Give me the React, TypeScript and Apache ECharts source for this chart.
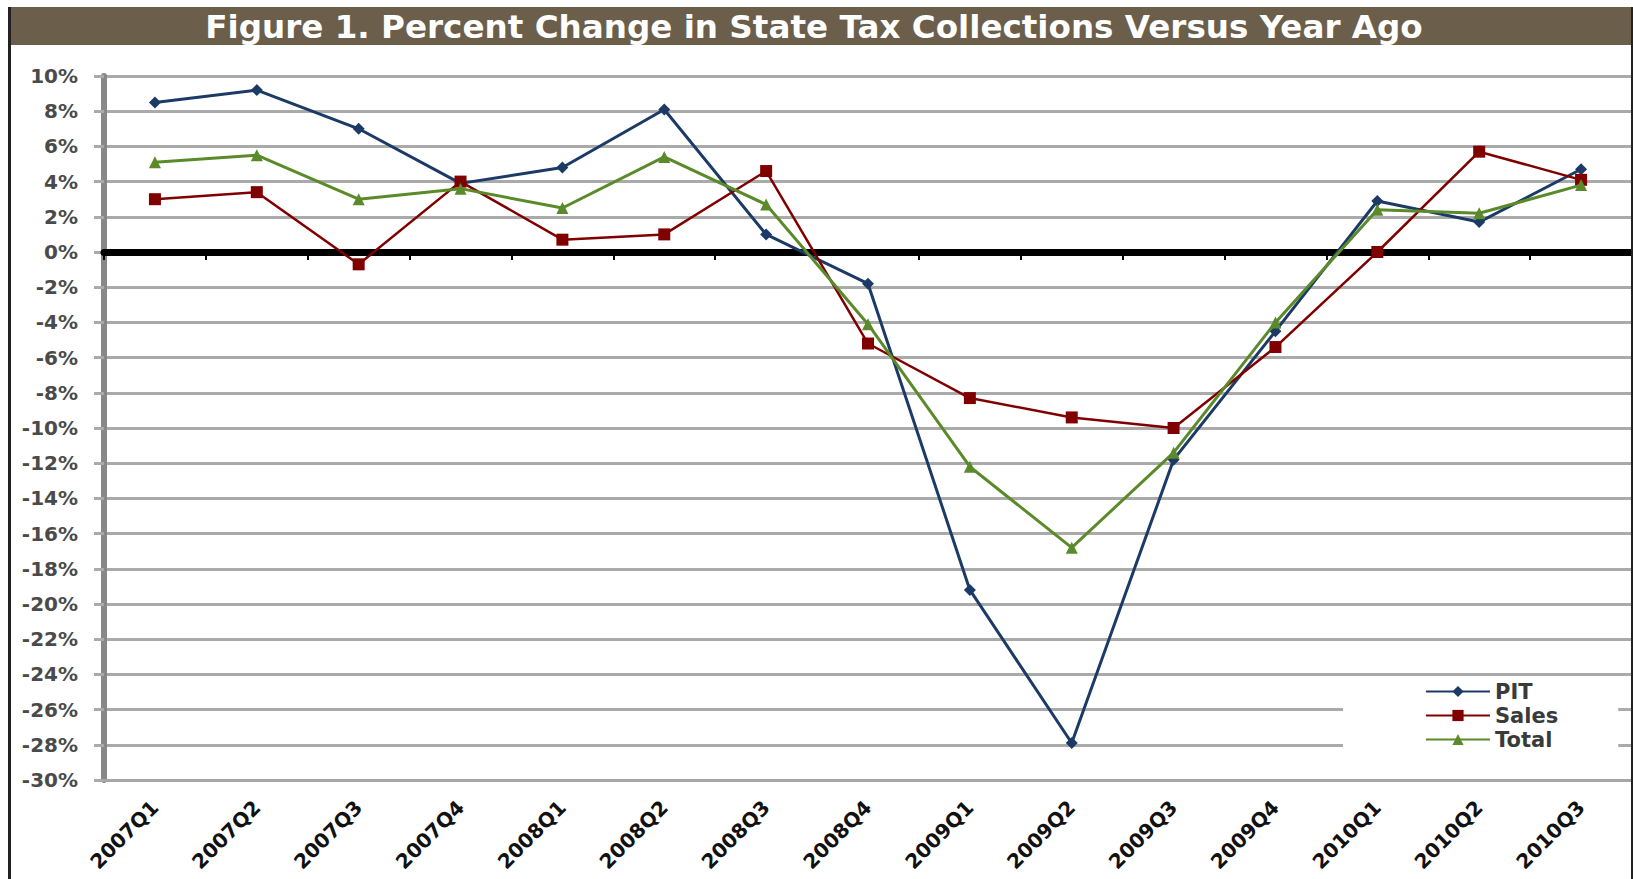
import React, { useEffect, useRef } from "react";
import * as echarts from "echarts";

const categories = [
  "2007Q1", "2007Q2", "2007Q3", "2007Q4",
  "2008Q1", "2008Q2", "2008Q3", "2008Q4",
  "2009Q1", "2009Q2", "2009Q3", "2009Q4",
  "2010Q1", "2010Q2", "2010Q3",
];
const pitValues = [8.5, 9.2, 7.0, 3.9, 4.8, 8.1, 1.0, -1.8, -19.2, -27.9, -11.8, -4.5, 2.9, 1.7, 4.7];
const salesValues = [3.0, 3.4, -0.7, 4.0, 0.7, 1.0, 4.6, -5.2, -8.3, -9.4, -10.0, -5.4, 0.0, 5.7, 4.1];
const totalValues = [5.1, 5.5, 3.0, 3.6, 2.5, 5.4, 2.7, -4.1, -12.2, -16.8, -11.4, -4.0, 2.4, 2.2, 3.8];
const seriesNames = ["PIT", "Sales", "Total"];
const titleText = "Figure 1. Percent Change in State Tax Collections Versus Year Ago";
const yMin = -30;
const yMax = 10;
const yStep = 2;

const FONT = "DejaVu Sans";

export default function App() {
  const ref = useRef<HTMLDivElement>(null);

  useEffect(() => {
    if (!ref.current) return;
    const chart = echarts.init(ref.current, undefined, { renderer: "svg" });
    const option = {
      animation: false,
      backgroundColor: "#ffffff",
      graphic: [
        {
          type: "rect",
          shape: { x: 10, y: 7, width: 1622, height: 38 },
          style: { fill: "#6b5e4a" },
          z: 10,
        },
        {
          type: "text",
          x: 814,
          y: 27,
          style: {
            text: titleText,
            fill: "#ffffff",
            font: `bold 32.6px "${FONT}"`,
            textAlign: "center",
            textVerticalAlign: "middle",
          },
          z: 11,
        },
        {
          type: "rect",
          shape: { x: 8, y: 7, width: 3, height: 872 },
          style: { fill: "#222222" },
          z: 12,
        },
        {
          type: "rect",
          shape: { x: 1631, y: 7, width: 2, height: 872 },
          style: { fill: "#222222" },
          z: 12,
        },
      ],
      legend: {
        orient: "vertical",
        left: 1343,
        top: 677,
        backgroundColor: "#ffffff",
        padding: [4, 60, 24, 82],
        itemWidth: 64,
        itemHeight: 14,
        itemGap: 3,
        data: seriesNames,
        textStyle: {
          fontFamily: FONT,
          fontWeight: "bold",
          fontSize: 21,
          lineHeight: 20,
          color: "#3a3a3a",
        },
      },
      grid: { left: 104, right: 1, top: 76, bottom: 99, containLabel: false },
      xAxis: [
        {
          type: "category",
          data: categories,
          position: "bottom",
          boundaryGap: true,
          axisLine: { onZero: false, show: true, lineStyle: { color: "#a6a6a6", width: 3 } },
          axisTick: { show: false },
          axisLabel: {
            rotate: 45,
            margin: 24,
            interval: 0,
            fontFamily: FONT,
            fontWeight: "bold",
            fontSize: 20,
            color: "#111111",
          },
          splitLine: { show: false },
        },
        {
          type: "category",
          data: categories,
          position: "bottom",
          boundaryGap: true,
          axisLine: { onZero: true, show: true, lineStyle: { color: "#000000", width: 7 } },
          axisTick: { show: true, length: 8, lineStyle: { color: "#000000", width: 2 } },
          axisLabel: { show: false },
          splitLine: { show: false },
          z: 3,
        },
      ],
      yAxis: {
        type: "value",
        min: yMin,
        max: yMax,
        interval: yStep,
        axisLine: { show: true, lineStyle: { color: "#888888", width: 6 } },
        axisTick: { show: true, length: 10, lineStyle: { color: "#aaaaaa", width: 3 } },
        axisLabel: {
          formatter: "{value}%",
          margin: 26,
          fontFamily: FONT,
          fontWeight: "bold",
          fontSize: 20,
          color: "#4a4a4a",
        },
        splitLine: { show: true, lineStyle: { color: "#aaaaaa", width: 3 } },
      },
      series: [
        {
          name: seriesNames[0],
          type: "line",
          xAxisIndex: 0,
          data: pitValues,
          symbol: "diamond",
          symbolSize: 12,
          lineStyle: { color: "#1c3a66", width: 3 },
          itemStyle: { color: "#1c3a66" },
          z: 4,
        },
        {
          name: seriesNames[1],
          type: "line",
          xAxisIndex: 0,
          data: salesValues,
          symbol: "rect",
          symbolSize: 12,
          lineStyle: { color: "#800000", width: 2.5 },
          itemStyle: { color: "#800000" },
          z: 5,
        },
        {
          name: seriesNames[2],
          type: "line",
          xAxisIndex: 0,
          data: totalValues,
          symbol: "triangle",
          symbolSize: 12,
          lineStyle: { color: "#5a8a2a", width: 3 },
          itemStyle: { color: "#5a8a2a" },
          z: 6,
        },
      ],
    };
    chart.setOption(option as any);
    return () => chart.dispose();
  }, []);

  return (
    <div
      ref={ref}
      style={{ position: "absolute", left: 0, top: 0, width: 1633, height: 879 }}
    />
  );
}
